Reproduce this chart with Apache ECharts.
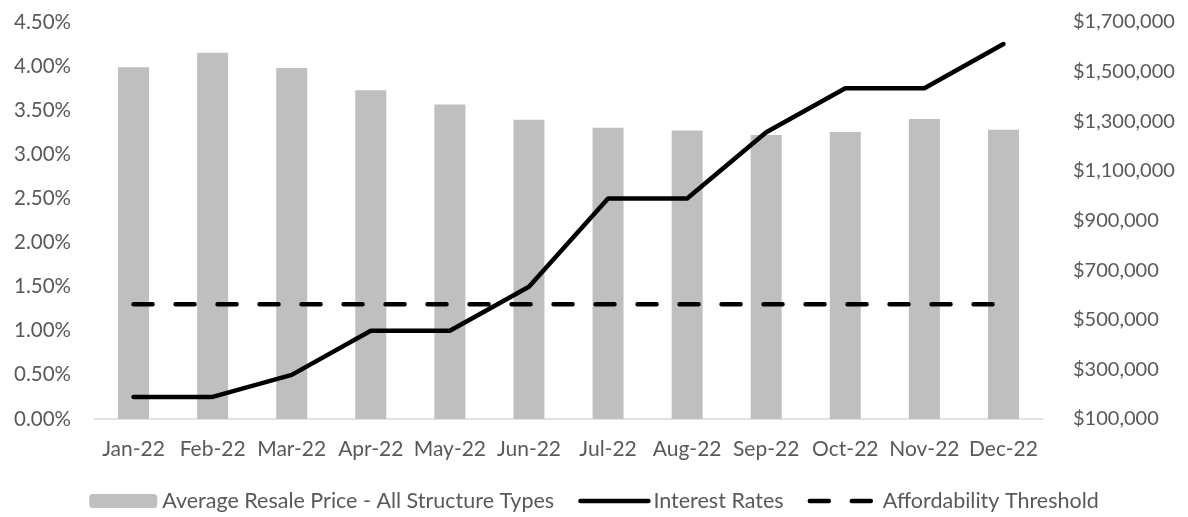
<!DOCTYPE html>
<html>
<head>
<meta charset="utf-8">
<script src="https://cdn.jsdelivr.net/npm/echarts@6/dist/echarts.min.js"></script>
<style>
    html, body { margin: 0; padding: 0; background: #fff; }
    #chart { width: 1188px; height: 517px; }
</style>
</head>
<body>
<div id="chart"></div>
<script>
const months = ['Jan-22', 'Feb-22', 'Mar-22', 'Apr-22', 'May-22', 'Jun-22', 'Jul-22', 'Aug-22', 'Sep-22', 'Oct-22', 'Nov-22', 'Dec-22'];
// average resale price, right axis ($)
const resalePrice = [1518000, 1576000, 1515000, 1425000, 1368000, 1306000, 1274000, 1263000, 1245000, 1257000, 1309000, 1266000];
// interest rates, left axis (%)
const interestRates = [0.25, 0.25, 0.5, 1.0, 1.0, 1.5, 2.5, 2.5, 3.25, 3.75, 3.75, 4.25];
// affordability threshold, left axis (%)
const threshold = [1.3, 1.3, 1.3, 1.3, 1.3, 1.3, 1.3, 1.3, 1.3, 1.3, 1.3, 1.3];

const textColor = '#595959';
const fontFamily = 'Lato, "Liberation Sans", sans-serif';

const chart = echarts.init(document.getElementById('chart'));

chart.setOption({
    animation: false,
    textStyle: { fontFamily: fontFamily },
    grid: { left: 94, right: 145, top: 22, bottom: 98 },
    legend: {
        top: 485,
        left: 'center',
        itemWidth: 68,
        itemHeight: 14,
        itemGap: 24,
        textStyle: { color: textColor, fontSize: 21.5, fontFamily: fontFamily },
        data: [
            { name: 'Average Resale Price - All Structure Types' },
            { name: 'Interest Rates', lineStyle: { width: 4.5 } },
            { name: 'Affordability Threshold', lineStyle: { width: 4.5 } }
        ]
    },
    xAxis: {
        type: 'category',
        data: months,
        axisLine: { lineStyle: { color: '#d9d9d9', width: 1.5 } },
        axisTick: { show: false },
        axisLabel: { color: textColor, fontSize: 21, margin: 20, interval: 0 }
    },
    yAxis: [
        {
            type: 'value',
            min: 0,
            max: 4.5,
            interval: 0.5,
            splitLine: { show: false },
            axisLine: { show: false },
            axisTick: { show: false },
            axisLabel: {
                color: textColor, fontSize: 20.5, margin: 23,
                formatter: v => v.toFixed(2) + '%'
            }
        },
        {
            type: 'value',
            min: 100000,
            max: 1700000,
            interval: 100000,
            splitLine: { show: false },
            axisLine: { show: false },
            axisTick: { show: false },
            axisLabel: {
                color: textColor, fontSize: 20, margin: 30,
                formatter: v => ((v - 100000) % 200000 === 0) ? '$' + v.toLocaleString('en') : ''
            }
        }
    ],
    series: [
        {
            name: 'Average Resale Price - All Structure Types',
            type: 'bar',
            yAxisIndex: 1,
            data: resalePrice,
            barWidth: 31,
            itemStyle: { color: '#bfbfbf' },
            z: 1
        },
        {
            name: 'Interest Rates',
            type: 'line',
            yAxisIndex: 0,
            data: interestRates,
            symbol: 'none',
            lineStyle: { color: '#000', width: 4.5, cap: 'round' },
            // transparent so the legend shows only the line
            itemStyle: { color: 'rgba(0,0,0,0)', borderWidth: 0 },
            z: 3
        },
        {
            name: 'Affordability Threshold',
            type: 'line',
            yAxisIndex: 0,
            data: threshold,
            symbol: 'none',
            lineStyle: { color: '#000', width: 4.5, type: [19, 23], cap: 'round' },
            itemStyle: { color: 'rgba(0,0,0,0)', borderWidth: 0 },
            z: 2
        }
    ]
});
</script>
</body>
</html>
